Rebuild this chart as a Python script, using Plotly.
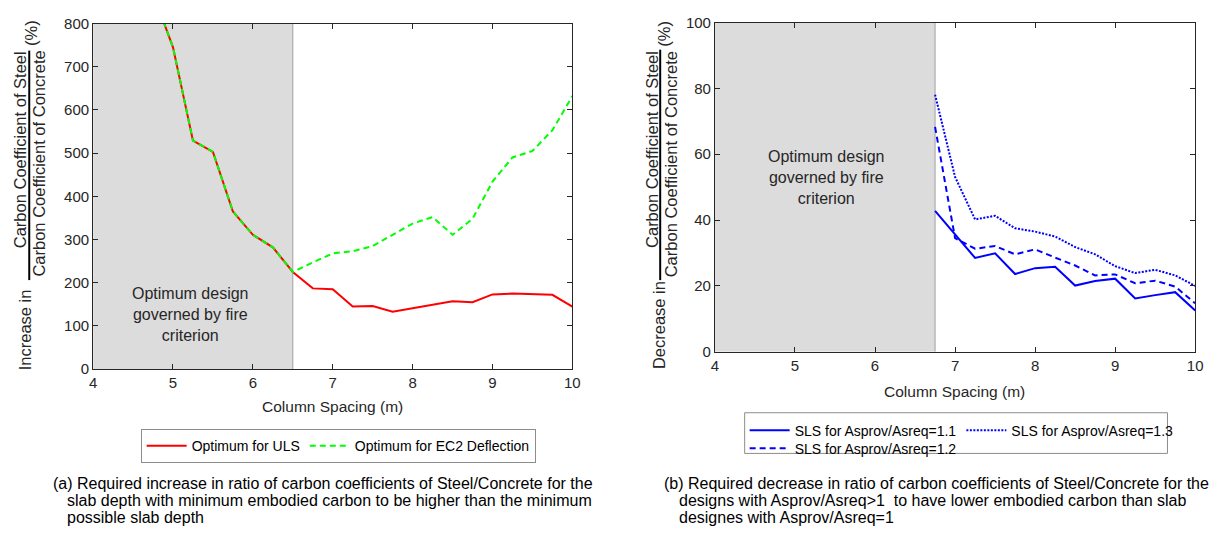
import plotly.graph_objects as go

W, H = 1223, 535

# ---------------- data ----------------
spacing_left = [4.75, 5.0, 5.25, 5.5, 5.75, 6.0, 6.25, 6.5, 6.75, 7.0, 7.25, 7.5,
                7.75, 8.0, 8.25, 8.5, 8.75, 9.0, 9.25, 9.5, 9.75, 10.0]
uls = [870, 745, 529, 503, 365, 311, 282, 225, 187, 185, 145, 146,
       133, 141, 148, 157, 155, 173, 175, 173, 172, 145]
ec2 = [870, 745, 529, 503, 365, 311, 282, 225, 247, 268, 273, 285,
       311, 337, 352, 311, 348, 434, 490, 505, 553, 632]

spacing_right = [6.75, 7.0, 7.25, 7.5, 7.75, 8.0, 8.25, 8.5, 8.75, 9.0, 9.25, 9.5, 9.75, 10.0]
sls_11 = [42.8, 35.6, 28.5, 29.9, 23.6, 25.4, 25.8, 20.1, 21.5, 22.2, 16.2, 17.2, 18.1, 12.5]
sls_12 = [68.3, 34.5, 31.3, 32.1, 29.6, 31.1, 28.6, 26.2, 23.2, 23.5, 20.8, 21.6, 19.8, 14.7]
sls_13 = [78.1, 53.1, 40.2, 41.3, 37.5, 36.5, 35.0, 31.8, 29.6, 26.0, 23.9, 24.9, 23.2, 20.0]

fire_limit_left = 6.5
fire_limit_right = 6.75
x_ticks = [4, 5, 6, 7, 8, 9, 10]

FONT = "Arial, 'Liberation Sans', sans-serif"
TXT = "#262626"

def px(x):
    return x / W

def py(y):
    return 1 - y / H

fig = go.Figure()

fig.add_trace(go.Scatter(x=spacing_left, y=uls, mode="lines", name="Optimum for ULS",
                         line=dict(color="#ff0000", width=2), xaxis="x", yaxis="y",
                         legend="legend"))
fig.add_trace(go.Scatter(x=spacing_left, y=ec2, mode="lines", name="Optimum for EC2 Deflection",
                         line=dict(color="#00ff00", width=2, dash="6px,4px"), xaxis="x", yaxis="y",
                         legend="legend"))

fig.add_trace(go.Scatter(x=spacing_right, y=sls_11, mode="lines", name="SLS for Asprov/Asreq=1.1",
                         line=dict(color="#0000ff", width=2), xaxis="x2", yaxis="y2",
                         legend="legend2"))
fig.add_trace(go.Scatter(x=spacing_right, y=sls_13, mode="lines", name="SLS for Asprov/Asreq=1.3",
                         line=dict(color="#0000ff", width=2, dash="2px,1.5px"), xaxis="x2", yaxis="y2",
                         legend="legend2"))
fig.add_trace(go.Scatter(x=spacing_right, y=sls_12, mode="lines", name="SLS for Asprov/Asreq=1.2",
                         line=dict(color="#0000ff", width=2, dash="6px,4px"), xaxis="x2", yaxis="y2",
                         legend="legend3"))

axis_common = dict(showgrid=False, zeroline=False, showline=True, linecolor=TXT, linewidth=1,
                   mirror="ticks", ticks="inside", ticklen=5, tickcolor=TXT,
                   tickfont=dict(family=FONT, size=15, color=TXT))

LEG_FONT = dict(family=FONT, size=14, color="black")

fig.update_layout(
    width=W, height=H,
    margin=dict(l=0, r=0, t=0, b=0),
    paper_bgcolor="white", plot_bgcolor="white",
    font=dict(family=FONT, color=TXT),
    xaxis=dict(domain=[px(90), px(574)], range=[4, 10], tickvals=x_ticks, anchor="y", **axis_common),
    yaxis=dict(domain=[py(372), py(15)], range=[0, 800], dtick=100, anchor="x", **axis_common),
    xaxis2=dict(domain=[px(718), px(1203)], range=[4, 10], tickvals=x_ticks, anchor="y2", **axis_common),
    yaxis2=dict(domain=[py(354), py(14)], range=[0, 100], dtick=20, anchor="x2", **axis_common),
    legend=dict(orientation="h", x=px(138), y=py(434), xanchor="left", yanchor="top",
                bordercolor="#8c8c8c", borderwidth=1, bgcolor="white", itemwidth=40,
                font=LEG_FONT),
    legend2=dict(orientation="h", x=px(748), y=py(419), xanchor="left", yanchor="top",
                 borderwidth=0, bgcolor="rgba(0,0,0,0)", itemwidth=40, font=LEG_FONT),
    legend3=dict(orientation="h", x=px(748), y=py(437.5), xanchor="left", yanchor="top",
                 borderwidth=0, bgcolor="rgba(0,0,0,0)", itemwidth=40, font=LEG_FONT),
    showlegend=True,
)

shapes = [
    dict(type="rect", xref="x", yref="y", x0=4, x1=fire_limit_left, y0=0, y1=800,
         fillcolor="#dcdcdc", line=dict(width=0), layer="below"),
    dict(type="line", xref="x", yref="y", x0=fire_limit_left, x1=fire_limit_left, y0=0, y1=800,
         line=dict(color="#a0a0a0", width=1), layer="below"),
    dict(type="rect", xref="x2", yref="y2", x0=4, x1=fire_limit_right, y0=0, y1=100,
         fillcolor="#dcdcdc", line=dict(width=0), layer="below"),
    dict(type="line", xref="x2", yref="y2", x0=fire_limit_right, x1=fire_limit_right, y0=0, y1=100,
         line=dict(color="#a0a0a0", width=1), layer="below"),
    # fraction bars of the y-axis titles
    dict(type="line", xref="paper", yref="paper", x0=px(25.5), x1=px(25.5), y0=py(280), y1=py(43),
         line=dict(color="black", width=2)),
    dict(type="line", xref="paper", yref="paper", x0=px(662.7), x1=px(662.7), y0=py(280), y1=py(42),
         line=dict(color="black", width=2)),
    # border of the right legend (two rows)
    dict(type="rect", xref="paper", yref="paper", x0=px(748), x1=px(1175), y0=py(459), y1=py(417),
         line=dict(color="#8c8c8c", width=1)),
]
fig.update_layout(shapes=shapes)

ann = []
def note(text, x, y, size, angle=0, xanchor="center", color=TXT, xref="paper", yref="paper"):
    ann.append(dict(text=text, x=x, y=y, xref=xref, yref=yref, showarrow=False,
                    textangle=angle, xanchor=xanchor, yanchor="middle",
                    font=dict(family=FONT, size=size, color=color)))

YT = 16.5
# y-axis titles (left)
note("Carbon Coefficient of Steel", px(17), py(145), YT, -90)
note("Carbon Coefficient of Concrete", px(35), py(160), YT, -90)
note("(%)", px(27), py(25), YT, -90)
note("Increase in", px(22), py(331), YT, -90)
# y-axis titles (right)
note("Carbon Coefficient of Steel", px(655), py(145), YT, -90)
note("Carbon Coefficient of Concrete", px(674), py(160), YT, -90)
note("(%)", px(667), py(25), YT, -90)
note("Decrease in", px(661), py(327), YT, -90)

# x-axis titles
note("Column Spacing (m)", px(332), py(411), 15.5)
note("Column Spacing (m)", px(960), py(395), 15.5)

# region notes
note("Optimum design<br>governed by fire<br>criterion", 5.215, 127, 16, xref="x", yref="y")
note("Optimum design<br>governed by fire<br>criterion", 5.395, 53, 16, xref="x2", yref="y2")

# captions
cap = 16
note("(a) Required increase in ratio of carbon coefficients of Steel/Concrete for the",
     px(47), py(490), cap, xanchor="left", color="black")
note("slab depth with minimum embodied carbon to be higher than the minimum",
     px(62), py(507.5), cap, xanchor="left", color="black")
note("possible slab depth", px(62), py(525), cap, xanchor="left", color="black")
note("(b) Required decrease in ratio of carbon coefficients of Steel/Concrete for the",
     px(665), py(490), cap, xanchor="left", color="black")
note("designs with Asprov/Asreq&gt;1  to have lower embodied carbon than slab",
     px(680), py(507.5), cap, xanchor="left", color="black")
note("designes with Asprov/Asreq=1", px(680), py(525), cap, xanchor="left", color="black")

fig.update_layout(annotations=ann)

fig.write_html("out.html", config={"displayModeBar": False},
               post_script="document.body.style.margin='0';document.body.style.overflow='hidden';")
